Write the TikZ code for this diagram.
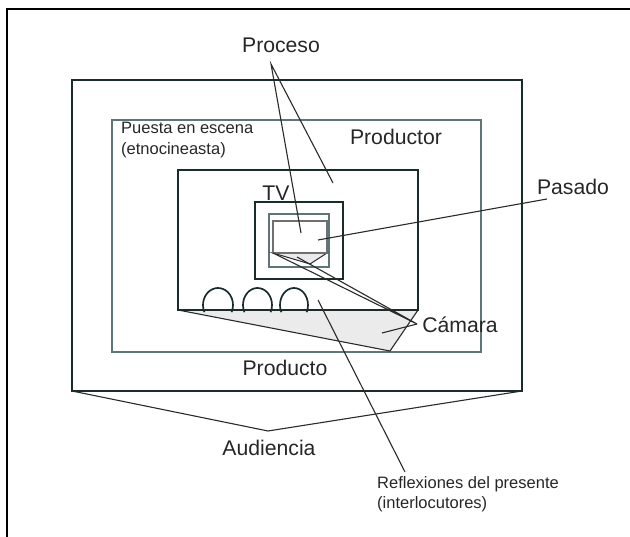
\documentclass[tikz,border=0pt]{standalone}
\usepackage{fontspec}
\setmainfont{Liberation Sans}
\definecolor{boxc}{HTML}{1A2B2B}
\definecolor{thinc}{HTML}{5E7676}
\definecolor{linec}{HTML}{2A2A2A}
\definecolor{txt}{HTML}{262626}
\definecolor{fillc}{HTML}{EBEBEB}
\definecolor{scrc}{HTML}{707070}
\begin{document}
\begin{tikzpicture}[x=1pt,y=-1pt,
  big/.style={font=\fontsize{21.2}{25}\selectfont, text=txt, inner sep=0pt},
  small/.style={font=\fontsize{16.5}{20.5}\selectfont, text=txt, inner sep=0pt, align=left},
  heavy/.style={draw=boxc, line width=2.7pt},
  light/.style={draw=thinc, line width=1.2pt},
  conn/.style={draw=linec, line width=1.1pt},
  arch/.style={draw=boxc, line width=1.7pt}
]
\useasboundingbox (0,0) rectangle (630,537);
% frame
\draw[heavy, draw=black] (7,537) -- (7,9) -- (630,9);
% boxes
\draw[heavy] (72,80) rectangle (522,391);
\draw[light] (112,120) rectangle (481,352);
% floor
\draw[fill=fillc, draw=linec, line width=1.1pt] (178,310) -- (418,310) -- (390,351) -- cycle;
\draw[heavy] (178,170) rectangle (418,310);
% TV
\draw[heavy] (255,202) rectangle (343,279);
\draw[light] (269,214) rectangle (329,267);
\draw[fill=fillc, draw=linec, line width=1pt] (273,253) -- (327,253) -- (310,264) -- cycle;
\draw[draw=scrc, line width=1.5pt] (273,221) rectangle (327,253);
% arches
\draw[arch] (218,305) ++(155:15 and 17) arc[start angle=155, end angle=385, x radius=15, y radius=17];
\draw[arch] (257.5,305) ++(155:14.5 and 17) arc[start angle=155, end angle=385, x radius=14.5, y radius=17];
\draw[arch] (294,305) ++(155:14 and 17) arc[start angle=155, end angle=385, x radius=14, y radius=17];
% labels
\node[big] (proceso) at (281,45) {Proceso};
\node[big] (productor) at (396,137) {Productor};
\node[small, anchor=west] (puesta) at (121,140) {Puesta en escena\\(etnocineasta)};
\node[big] (tv) at (276,193) {TV};
\node[big] (pasado) at (573,187) {Pasado};
\node[big] (camara) at (460,325) {Cámara};
\node[big] (producto) at (285,368) {Producto};
\node[big] (audiencia) at (269,448) {Audiencia};
\node[small, anchor=west] (reflex) at (377,494) {Reflexiones del presente\\(interlocutores)};
% connector points
\coordinate (pa) at (271,64);
\coordinate (p1) at (301,233);
\coordinate (p2) at (333,183);
\coordinate (pasa) at (547,199);
\coordinate (pasb) at (318,240);
\coordinate (ca) at (417,324);
\coordinate (c1) at (273,253);
\coordinate (c2) at (297,257);
\coordinate (c3) at (382,333);
\coordinate (ra) at (405,472);
\coordinate (rb) at (318,300);
\coordinate (al) at (72,391);
\coordinate (aa) at (268,431);
\coordinate (ar) at (522,391);
% connectors
\draw[conn] (p1) -- (pa) -- (p2);
\draw[conn] (pasa) -- (pasb);
\draw[conn] (c1) -- (ca) -- (c2);
\draw[conn] (ca) -- (c3);
\draw[conn] (ra) -- (rb);
\draw[conn] (al) -- (aa) -- (ar);
\end{tikzpicture}
\end{document}
